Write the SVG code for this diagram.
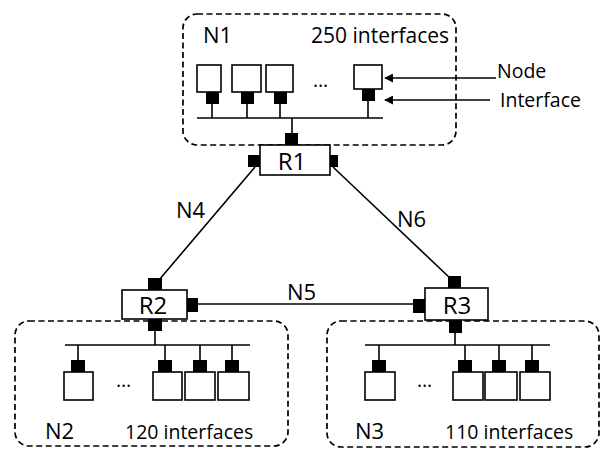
<svg xmlns="http://www.w3.org/2000/svg" width="603" height="452" viewBox="0 0 603 452">
<defs>
<style>
.net{fill:none;stroke:#000;stroke-width:1.7;stroke-dasharray:6,3.5}
.nd{fill:#fff;stroke:#000;stroke-width:1.6}
.if{fill:#000}
.ln{stroke:#000;stroke-width:1.6;fill:none}
.rt{fill:#fff;stroke:#000;stroke-width:1.6}
.lb{font-family:"Open Sans","Noto Sans",sans-serif;font-size:22px;fill:#000}
.rl{font-family:"Open Sans","Noto Sans",sans-serif;font-size:24px;fill:#000}
.sm{font-family:"Open Sans","Noto Sans",sans-serif;font-size:19.5px;fill:#000}
</style>
<marker id="ah" viewBox="0 0 10 10" refX="9" refY="5" markerWidth="9" markerHeight="9" markerUnits="userSpaceOnUse" orient="auto">
<path d="M0,0 L10,5 L0,10 Z" fill="#000"/>
</marker>
</defs>

<g id="N1">
<rect class="net" x="183" y="14" width="273" height="131" rx="14"/>
<text class="lb" x="203" y="43">N1</text>
<text class="sm" x="311" y="43" style="font-size:21px">250 interfaces</text>
<line class="ln" x1="197" y1="118" x2="383" y2="118"/>
<rect class="nd" x="197" y="65" width="24" height="27"/>
<rect class="nd" x="232" y="65" width="29" height="27"/>
<rect class="nd" x="266" y="65" width="27" height="27"/>
<rect class="nd" x="354" y="65" width="28" height="24"/>
<rect class="if" x="206" y="92" width="13" height="12"/>
<rect class="if" x="241" y="92" width="13" height="12"/>
<rect class="if" x="274" y="92" width="13" height="12"/>
<rect class="if" x="362" y="89" width="13" height="12"/>
<line class="ln" x1="212" y1="104" x2="212" y2="118"/>
<line class="ln" x1="247" y1="104" x2="247" y2="118"/>
<line class="ln" x1="280" y1="104" x2="280" y2="118"/>
<line class="ln" x1="368" y1="101" x2="368" y2="118"/>
<text class="sm" x="313" y="87">…</text>
</g>

<g id="legend">
<line class="ln" x1="496" y1="78" x2="385" y2="78" marker-end="url(#ah)"/>
<line class="ln" x1="490" y1="100" x2="385" y2="100" marker-end="url(#ah)"/>
<text class="sm" x="497" y="78">Node</text>
<text class="sm" x="500" y="107">Interface</text>
</g>

<g id="R1">
<line class="ln" x1="292" y1="118" x2="292" y2="133"/>
<rect class="rt" x="260" y="145" width="70" height="30"/>
<rect class="if" x="285" y="133" width="13" height="12"/>
<rect class="if" x="248" y="155" width="12" height="12"/>
<rect class="if" x="330" y="155" width="8" height="12"/>
<text class="rl" x="292" y="170" text-anchor="middle">R1</text>
</g>

<g id="connectors">
<line class="ln" x1="255" y1="167" x2="159" y2="280"/>
<line class="ln" x1="333" y1="167" x2="451" y2="279"/>
<line class="ln" x1="198" y1="304" x2="414" y2="304"/>
<text class="lb" x="176" y="218">N4</text>
<text class="lb" x="397" y="227">N6</text>
<text class="lb" x="287" y="300">N5</text>
</g>

<g id="R2">
<rect class="rt" x="122" y="290" width="65" height="29"/>
<rect class="if" x="148" y="278" width="14" height="12"/>
<rect class="if" x="187" y="298" width="11" height="14"/>
<rect class="if" x="148" y="319" width="14" height="12"/>
<text class="rl" x="153" y="314" text-anchor="middle">R2</text>
</g>

<g id="R3">
<rect class="rt" x="425" y="288" width="63" height="32"/>
<rect class="if" x="413" y="299" width="12" height="14"/>
<rect class="if" x="448" y="276" width="13" height="12"/>
<rect class="if" x="449" y="320" width="13" height="13"/>
<text class="rl" x="457" y="314" text-anchor="middle">R3</text>
</g>

<g id="N2">
<rect class="net" x="15" y="321" width="273" height="125" rx="14"/>
<line class="ln" x1="155" y1="331" x2="155" y2="345"/>
<line class="ln" x1="65" y1="345" x2="250" y2="345"/>
<line class="ln" x1="78" y1="345" x2="78" y2="360"/>
<line class="ln" x1="165" y1="345" x2="165" y2="360"/>
<line class="ln" x1="200" y1="345" x2="200" y2="360"/>
<line class="ln" x1="232" y1="345" x2="232" y2="360"/>
<rect class="if" x="71" y="360" width="14" height="12"/>
<rect class="if" x="158" y="360" width="14" height="12"/>
<rect class="if" x="193" y="360" width="14" height="12"/>
<rect class="if" x="225" y="360" width="14" height="12"/>
<rect class="nd" x="64" y="372" width="29" height="28"/>
<rect class="nd" x="153" y="372" width="29" height="28"/>
<rect class="nd" x="185" y="372" width="30" height="28"/>
<rect class="nd" x="218" y="372" width="31" height="28"/>
<text class="sm" x="116" y="387">…</text>
<text class="lb" x="45" y="439">N2</text>
<text class="sm" x="125" y="439">120 interfaces</text>
</g>

<g id="N3">
<rect class="net" x="327" y="321" width="272" height="126" rx="14"/>
<line class="ln" x1="455" y1="333" x2="455" y2="345"/>
<line class="ln" x1="365" y1="345" x2="550" y2="345"/>
<line class="ln" x1="379" y1="345" x2="379" y2="360"/>
<line class="ln" x1="465" y1="345" x2="465" y2="360"/>
<line class="ln" x1="499" y1="345" x2="499" y2="360"/>
<line class="ln" x1="532" y1="345" x2="532" y2="360"/>
<rect class="if" x="372" y="360" width="14" height="12"/>
<rect class="if" x="458" y="360" width="14" height="12"/>
<rect class="if" x="492" y="360" width="14" height="12"/>
<rect class="if" x="525" y="360" width="14" height="12"/>
<rect class="nd" x="365" y="372" width="30" height="28"/>
<rect class="nd" x="453" y="372" width="30" height="28"/>
<rect class="nd" x="485" y="372" width="32" height="28"/>
<rect class="nd" x="520" y="372" width="30" height="28"/>
<text class="sm" x="417" y="387">…</text>
<text class="lb" x="355" y="439">N3</text>
<text class="sm" x="445" y="439">110 interfaces</text>
</g>
</svg>
